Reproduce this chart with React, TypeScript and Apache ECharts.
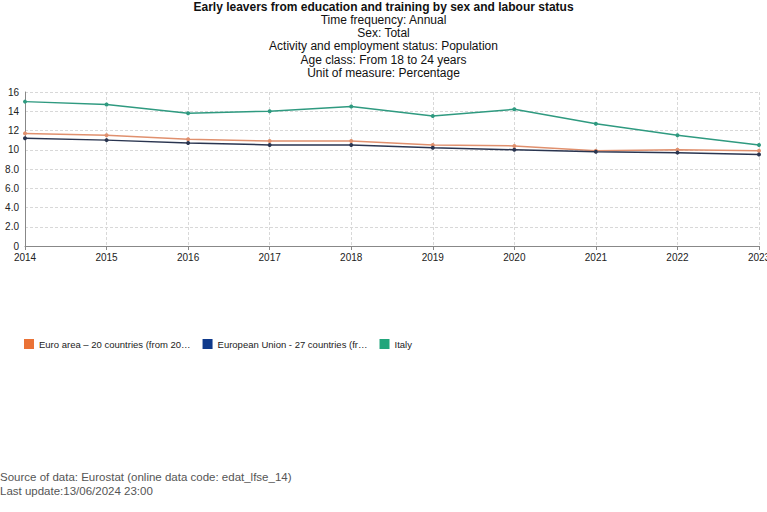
import React, { useEffect, useRef } from "react";
import * as echarts from "echarts";

const years = ["2014", "2015", "2016", "2017", "2018", "2019", "2020", "2021", "2022", "2023"];
const euroArea = [11.7, 11.5, 11.1, 10.9, 10.9, 10.5, 10.4, 9.9, 10.0, 9.9];
const eu27 = [11.2, 11.0, 10.7, 10.5, 10.5, 10.2, 10.0, 9.8, 9.7, 9.5];
const italy = [15.0, 14.7, 13.8, 14.0, 14.5, 13.5, 14.2, 12.7, 11.5, 10.5];

const seriesNames = [
  "Euro area – 20 countries (from 2023)",
  "European Union - 27 countries (from 2020)",
  "Italy",
];
const legendLabels = [
  "Euro area – 20 countries (from 20…",
  "European Union - 27 countries (fr…",
  "Italy",
];
const lineColors = ["#e0906e", "#2a3550", "#2f9a80"];
const legendColors = ["#ea7236", "#0f3a8c", "#22a67c"];

const titleText = "Early leavers from education and training by sex and labour status";
const subtitleLines = [
  "Time frequency: Annual",
  "Sex: Total",
  "Activity and employment status: Population",
  "Age class: From 18 to 24 years",
  "Unit of measure: Percentage",
];
const footerLines = [
  "Source of data: Eurostat (online data code: edat_lfse_14)",
  "Last update:13/06/2024 23:00",
];

const FONT = "'Liberation Sans', Arial, Helvetica, sans-serif";

export default function App() {
  const ref = useRef<HTMLDivElement>(null);
  useEffect(() => {
    if (!ref.current) return;
    const chart = echarts.init(ref.current, null, { renderer: "svg" });
    const data = [euroArea, eu27, italy];
    chart.setOption({
      animation: false,
      textStyle: { fontFamily: FONT },
      title: {
        text: titleText,
        subtext: subtitleLines.join("\n"),
        left: "center",
        top: -4,
        itemGap: 0,
        textStyle: { fontFamily: FONT, fontSize: 12, fontWeight: "bold", color: "#111" },
        subtextStyle: { fontFamily: FONT, fontSize: 12, color: "#111", lineHeight: 13.3 },
      },
      legend: {
        left: 19,
        top: 334,
        icon: "rect",
        itemWidth: 10,
        itemHeight: 10,
        itemGap: 12,
        textStyle: { fontFamily: FONT, fontSize: 9.5, color: "#222" },
        formatter: (name: string) => legendLabels[seriesNames.indexOf(name)],
        data: seriesNames.map((n, i) => ({ name: n, itemStyle: { color: legendColors[i] } })),
      },
      grid: { left: 25, right: 8, top: 92, bottom: 266, containLabel: false, outerBoundsMode: "none" },
      xAxis: {
        type: "category",
        data: years,
        boundaryGap: false,
        axisLine: { lineStyle: { color: "#888" } },
        axisTick: { show: true, length: 4, lineStyle: { color: "#888" } },
        axisLabel: { fontFamily: FONT, fontSize: 10, color: "#222", margin: 6 },
        splitLine: { show: true, lineStyle: { color: "#d8d8d8", type: [3, 2] } },
      },
      yAxis: {
        type: "value",
        min: 0,
        max: 16,
        interval: 2,
        axisLine: { show: true, lineStyle: { color: "#888" } },
        axisTick: { show: false },
        axisLabel: {
          fontFamily: FONT,
          fontSize: 10,
          color: "#222",
          margin: 6,
          formatter: (v: number) => (v === 0 ? "0" : v < 10 ? v.toFixed(1) : String(v)),
        },
        splitLine: { show: true, lineStyle: { color: "#d8d8d8", type: [3, 2] } },
      },
      series: seriesNames.map((n, i) => ({
        name: n,
        type: "line",
        data: data[i],
        symbol: "circle",
        symbolSize: 4,
        lineStyle: { width: 1.5, color: lineColors[i] },
        itemStyle: { color: lineColors[i] },
      })),
      graphic: footerLines.map((t, i) => ({
        type: "text",
        left: 0,
        top: 471 + i * 14,
        style: { text: t, fontFamily: FONT, fontSize: 11.5, fill: "#555" },
      })),
    });
    return () => chart.dispose();
  }, []);
  return <div ref={ref} style={{ width: 767, height: 512, position: "absolute", left: 0, top: 0 }} />;
}
